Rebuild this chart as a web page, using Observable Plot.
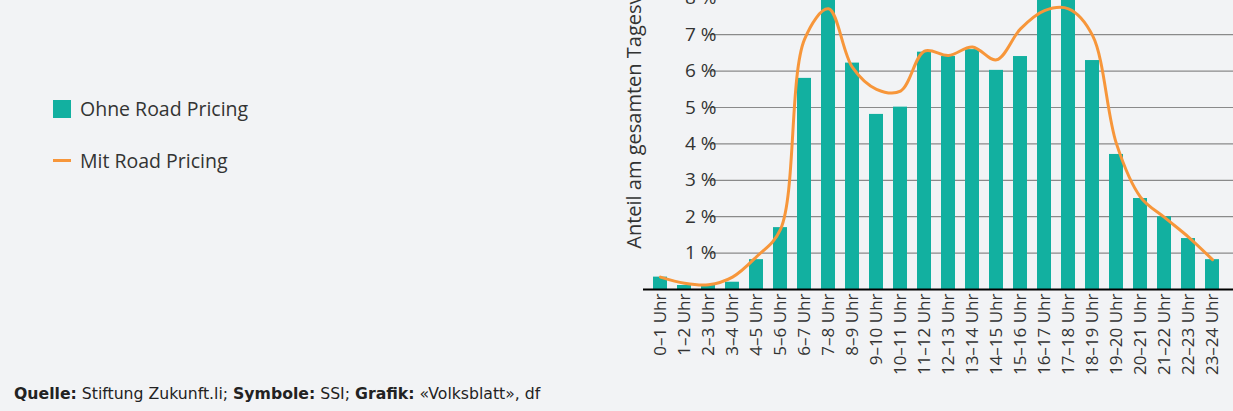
<!DOCTYPE html>
<html>
<head>
<meta charset="utf-8">
<script src="https://cdn.jsdelivr.net/npm/d3@7"></script>
<script src="https://cdn.jsdelivr.net/npm/@observablehq/plot@0.6"></script>
<style>
  html, body { margin: 0; padding: 0; background: #f2f3f5; }
  body { width: 1233px; height: 411px; position: relative; overflow: hidden; font-family: "Open Sans", Lato, sans-serif; color: #333; }
  #chart { position: absolute; left: 0; top: -40px; }
  .leg { position: absolute; left: 53px; display: flex; align-items: center; font-size: 19.5px; color: #333; }
  .sw { width: 18px; height: 18px; background: #12b0a0; margin-right: 9px; }
  .ln { width: 18px; height: 3px; background: #f7963a; margin-right: 9px; }
  #caption { position: absolute; left: 14px; top: 385px; font-family: "DejaVu Sans", sans-serif; font-size: 15.7px; line-height: 18px; color: #222; }
  #caption b { font-weight: 700; }
</style>
</head>
<body>
<div class="leg" style="top:95px"><div class="sw"></div><span>Ohne Road Pricing</span></div>
<div class="leg" style="top:147px"><div class="ln"></div><span>Mit Road Pricing</span></div>
<div id="caption"><b>Quelle:</b> Stiftung Zukunft.li; <b>Symbole:</b> SSI; <b>Grafik:</b> «Volksblatt», df</div>
<div id="chart"></div>
<script>
const hours = ["0–1 Uhr","1–2 Uhr","2–3 Uhr","3–4 Uhr","4–5 Uhr","5–6 Uhr","6–7 Uhr","7–8 Uhr","8–9 Uhr","9–10 Uhr","10–11 Uhr","11–12 Uhr","12–13 Uhr","13–14 Uhr","14–15 Uhr","15–16 Uhr","16–17 Uhr","17–18 Uhr","18–19 Uhr","19–20 Uhr","20–21 Uhr","21–22 Uhr","22–23 Uhr","23–24 Uhr"];
const ohneRoadPricing = [0.34,0.11,0.13,0.20,0.82,1.70,5.80,8.40,6.22,4.81,5.01,6.52,6.40,6.59,6.02,6.40,8.30,8.20,6.29,3.71,2.50,2.00,1.40,0.82];
const mitRoadPricing = [0.34,0.17,0.13,0.34,0.90,1.65,6.87,7.71,6.10,5.50,5.45,6.55,6.43,6.66,6.31,7.16,7.66,7.71,6.98,4.00,2.54,1.98,1.44,0.82];
const yTicks = [1,2,3,4,5,6,7,8];
const yLabel = "Anteil am gesamten Tagesverkehr";

const data = hours.map((h, i) => ({hour: h, ohne: ohneRoadPricing[i], mit: mitRoadPricing[i]}));

const chart = Plot.plot({
  width: 1233,
  height: 451,
  marginLeft: 640,
  marginRight: 0,
  marginTop: 1.4,
  marginBottom: 122,
  style: {background: "transparent", fontFamily: "'Open Sans', Lato, sans-serif", color: "#333"},
  x: {domain: hours, padding: 0.4, label: null},
  y: {domain: [0, 9], label: null},
  marks: [
    Plot.gridY(yTicks, {stroke: "#8a8a8a", strokeOpacity: 1, strokeWidth: 1.2, insetLeft: 68}),
    Plot.barY(data, {x: "hour", y: "ohne", fill: "#12b0a0"}),
    Plot.line(data, {x: "hour", y: "mit", stroke: "#f7963a", strokeWidth: 3, curve: "catmull-rom"}),
    Plot.ruleY([0], {stroke: "#000", strokeWidth: 2, insetLeft: 3}),
    Plot.axisY(yTicks, {tickSize: 0, tickPadding: 0, dx: 76, fontSize: 19, tickFormat: d => d + " %", label: null}),
    Plot.axisX({tickRotate: -90, tickSize: 0, tickPadding: 4, fontSize: 17, label: null}),
    Plot.text([yLabel], {frameAnchor: "left", textAnchor: "start", rotate: -90, dx: -6, dy: 123, fontSize: 20, fill: "#333"})
  ]
});
document.getElementById("chart").appendChild(chart);
</script>
</body>
</html>
